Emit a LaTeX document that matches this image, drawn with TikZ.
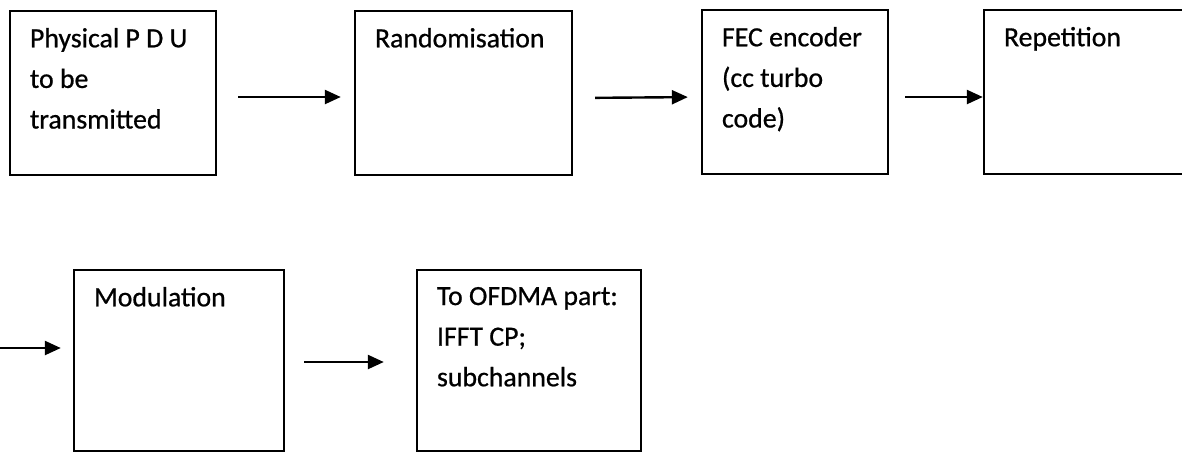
\documentclass[tikz,border=0pt]{standalone}
\usepackage{fontspec}
\setmainfont{Carlito}[FakeBold=0.7]
\usepackage{tikz}
\usetikzlibrary{arrows.meta,positioning}
\tikzstyle{blok} = [rectangle, draw, line width=1.2pt, inner sep=0pt, minimum height=82pt]
\tikzstyle{txt} = [anchor=north west, align=left, inner sep=0pt, font=\fontsize{13.9}{20.3}\selectfont]

\begin{document}
\begin{tikzpicture}[->,>={Triangle[length=8pt,width=7pt]},line width=1.2pt,x=0.5pt,y=-0.5pt]
  \useasboundingbox (0,0) rectangle (1182,452);
  % first row
  \node[blok, minimum width=103pt] (PDU) at (113,93) {};
  \node[blok, minimum width=108.5pt] (rand) at (463.5,93) {};
  \node[blok, minimum width=93pt] (fec) at (795,92) {};
  \node[blok, minimum width=115pt] (rep) at (1099,92) {};
  % second row
  \node[blok, minimum width=105pt, minimum height=90.5pt] (mod) at (179,360.5) {};
  \node[blok, minimum width=112pt, minimum height=90.5pt] (ofdma) at (529,360.5) {};
  \coordinate (in) at (0,348);

  \node[txt, below right=8.5pt and 10pt of PDU.north west] (PDU_t) {Physical P D U\\to be\\transmitted};
  \node[txt, below right=8.5pt and 10pt of rand.north west] (rand_t) {Randomisation};
  \node[txt, below right=8.5pt and 10pt of fec.north west] (fec_t) {FEC encoder\\(cc turbo\\code)};
  \node[txt, below right=8.5pt and 10pt of rep.north west] (rep_t) {Repetition};
  \node[txt, below right=8.5pt and 10pt of mod.north west] (mod_t) {Modulation};
  \node[txt, below right=8.5pt and 10pt of ofdma.north west] (ofdma_t) {To OFDMA part:\\IFFT CP;\\subchannels};

  \draw[shorten <=10.5pt, shorten >=6.5pt] ([yshift=-2pt]PDU.east) -- ([yshift=-2pt]rand.west);
  \draw[shorten <=11pt, shorten >=6.5pt] ([yshift=-2.5pt]rand.east) -- ([yshift=-2.5pt]fec.west);
  \draw[shorten <=8pt] ([yshift=-2.5pt]fec.east) -- ([yshift=-2.5pt]rep.west);
  \draw[shorten >=6pt] (in) -- (in -| mod.west);
  \draw[shorten <=9.5pt, shorten >=16pt] ([yshift=-0.75pt]mod.east) -- ([yshift=-0.75pt]ofdma.west);
\end{tikzpicture}
\end{document}
